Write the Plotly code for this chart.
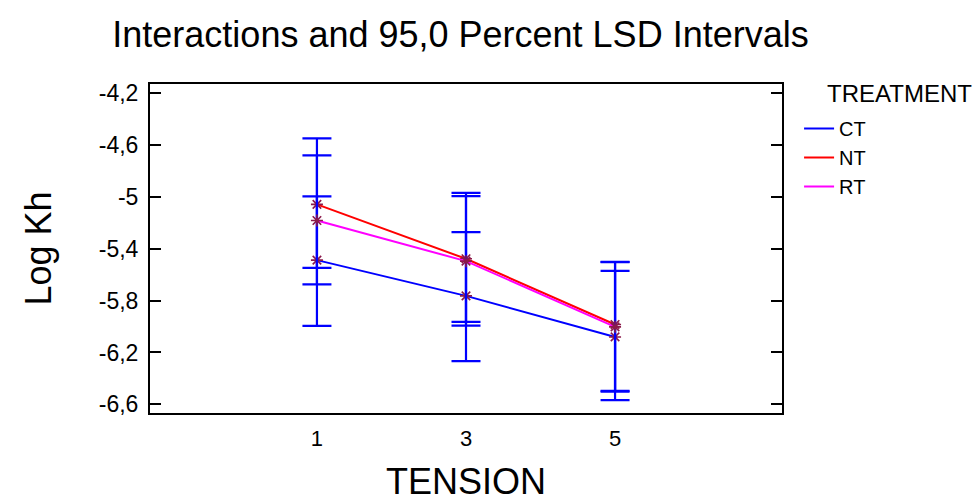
import plotly.graph_objects as go

# Data
tension = [1, 3, 5]
series_names = ["CT", "NT", "RT"]
ct_mean = [-5.487, -5.763, -6.080]
ct_lower = [-5.995, -6.267, -6.568]
ct_upper = [-4.995, -5.271, -5.570]
nt_mean = [-5.057, -5.477, -5.984]
nt_lower = [-5.547, -5.964, -6.497]
nt_upper = [-4.547, -4.968, -5.500]
rt_mean = [-5.181, -5.495, -6.002]
rt_lower = [-5.675, -5.992, -6.502]
rt_upper = [-4.679, -4.993, -5.502]

y_tickvals = [-6.6, -6.2, -5.8, -5.4, -5.0, -4.6, -4.2]
y_ticktext = ["-6,6", "-6,2", "-5,8", "-5,4", "-5", "-4,6", "-4,2"]
x_tickvals = [1, 3, 5]
x_ticktext = ["1", "3", "5"]

colors = {"CT": "#0000FF", "NT": "#FF0000", "RT": "#FF00FF"}
marker_color = "#8B1A4B"
FONT = "Liberation Sans, Arial, sans-serif"

data = {
    "CT": (ct_mean, ct_lower, ct_upper),
    "NT": (nt_mean, nt_lower, nt_upper),
    "RT": (rt_mean, rt_lower, rt_upper),
}

fig = go.Figure()
for name in series_names:
    mean, lower, upper = data[name]
    fig.add_trace(go.Scatter(
        x=tension, y=mean, name=name, mode="lines+markers",
        showlegend=False,
        line=dict(color=colors[name], width=2),
        marker=dict(symbol="asterisk-open", size=10, color=marker_color,
                    line=dict(color=marker_color, width=1.6)),
        error_y=dict(type="data", symmetric=False,
                     array=[u - m for u, m in zip(upper, mean)],
                     arrayminus=[m - l for m, l in zip(mean, lower)],
                     color="#0000FF", thickness=2.2, width=14.5),
    ))

# legend-only entries (lines without markers, as in the reference)
for name in series_names:
    fig.add_trace(go.Scatter(
        x=[None], y=[None], name=name, mode="lines",
        line=dict(color=colors[name], width=2), showlegend=True,
    ))

fig.update_layout(
    width=977, height=502,
    margin=dict(l=150, r=195, t=84, b=89),
    paper_bgcolor="white", plot_bgcolor="white",
    font=dict(family=FONT, color="black"),
    title=dict(text="Interactions and 95,0 Percent LSD Intervals",
               font=dict(family=FONT, size=36, color="black"),
               x=460.5 / 977, xanchor="center", xref="container",
               y=1 - 34 / 502, yanchor="middle", yref="container"),
    showlegend=True,
    legend=dict(x=1.027, y=(413 - 109) / 329, xanchor="left", yanchor="top",
                font=dict(family=FONT, size=20, color="black"),
                bgcolor="rgba(0,0,0,0)", itemwidth=30,
                tracegroupgap=0),
    annotations=[dict(text="TREATMENT", xref="paper", yref="paper",
                      x=(825 - 150) / 632, y=(413 - 93.3) / 329,
                      xanchor="left", yanchor="middle", showarrow=False,
                      font=dict(family=FONT, size=24, color="black"))],
)

fig.update_xaxes(
    range=[-1.24, 7.24], tickvals=x_tickvals, ticktext=x_ticktext,
    showline=True, linecolor="black", linewidth=2, mirror=True,
    ticks="", showgrid=False, zeroline=False, automargin=False,
    tickfont=dict(family=FONT, size=22, color="black"),
    ticklabelstandoff=5,
    title=dict(text="TENSION", font=dict(family=FONT, size=36, color="black"),
               standoff=20),
)
fig.update_yaxes(
    range=[-6.667, -4.128], tickvals=y_tickvals, ticktext=y_ticktext,
    showline=True, linecolor="black", linewidth=2, mirror="allticks",
    ticks="inside", ticklen=11, tickwidth=2, tickcolor="black",
    showgrid=False, zeroline=False, automargin=False,
    tickfont=dict(family=FONT, size=23, color="black"),
    ticklabelstandoff=5,
    title=dict(text="Log Kh", font=dict(family=FONT, size=36, color="black"),
               standoff=36),
)

fig.write_html("out.html")
